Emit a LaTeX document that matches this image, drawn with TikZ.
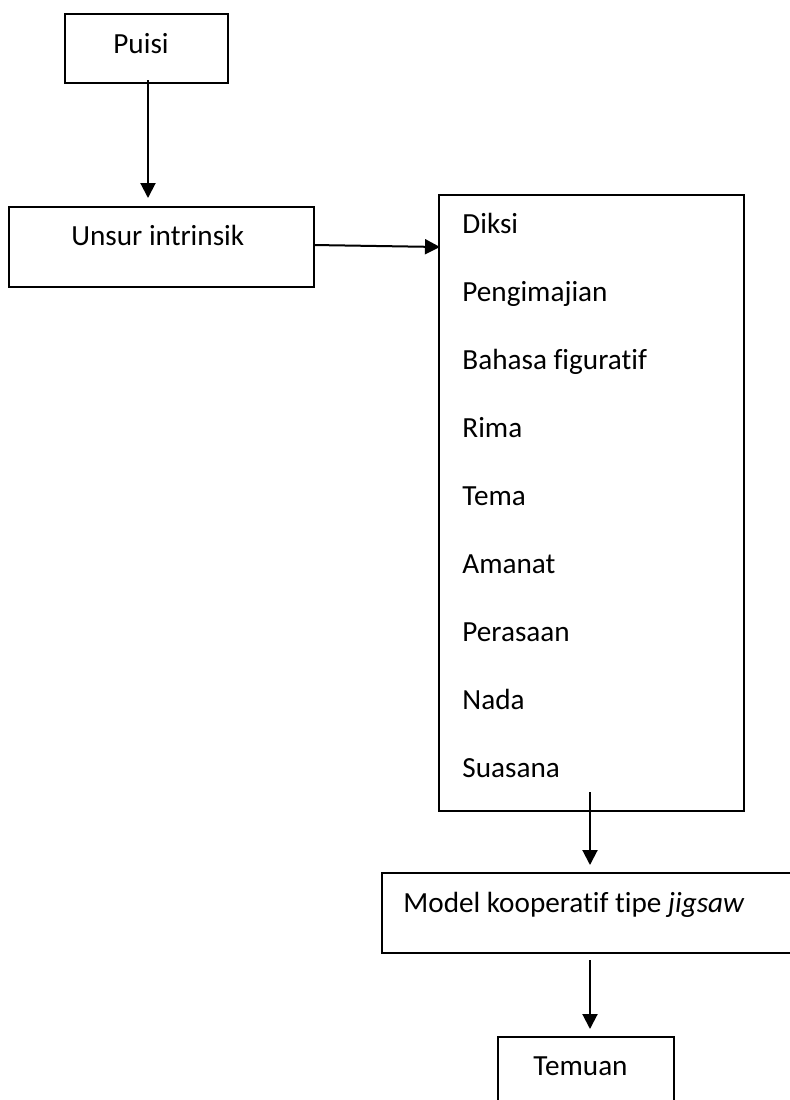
\documentclass[tikz,border=0pt]{standalone}
\usepackage{fontspec}
\setmainfont{Carlito}[Ligatures={NoCommon}]
\usetikzlibrary{arrows.meta}
\begin{document}
\begin{tikzpicture}[x=0.5pt,y=-0.5pt,
  box/.style={draw,line width=1pt},
  lbl/.style={anchor=base west,inner sep=0pt,font=\fontsize{14.6pt}{17pt}\selectfont},
  conn/.style={line width=1pt,-{Triangle[width=7.5pt,length=7.5pt]}}]
\useasboundingbox[fill=white] (0,0) rectangle (790,1100);
% boxes
\draw[box] (65,14) rectangle (228,83);
\draw[box] (9,207) rectangle (314,287);
\draw[box] (439,195) rectangle (744,811);
\draw[box] (800,873) -- (382,873) -- (382,953) -- (800,953);
\draw[box] (498,1110) -- (498,1037) -- (674,1037) -- (674,1110);
% texts
\node[lbl] (puisi) at (113,53) {Puisi};
\node[lbl] (unsur) at (71,245) {Unsur intrinsik};
\node[lbl] (diksi) at (462,233) {Diksi};
\node[lbl] (peng) at (462,301) {Pengimajian};
\node[lbl] (bahasa) at (462,369) {Bahasa figuratif};
\node[lbl] (rima) at (462,437) {Rima};
\node[lbl] (tema) at (462,505) {Tema};
\node[lbl] (amanat) at (462,573) {Amanat};
\node[lbl] (perasaan) at (462,641) {Perasaan};
\node[lbl] (nada) at (462,709) {Nada};
\node[lbl] (suasana) at (462,777) {Suasana};
\node[lbl] (model) at (403,912) {Model kooperatif tipe \textit{jigsaw}};
\node[lbl] (temuan) at (533,1075) {Temuan};
% connector endpoints
\coordinate (a1s) at (148,80);
\coordinate (a1e) at (148,198);
\coordinate (a2s) at (314,245);
\coordinate (a2e) at (440,247);
\coordinate (a3s) at (590,792);
\coordinate (a3e) at (590,865);
\coordinate (a4s) at (590,960);
\coordinate (a4e) at (590,1029);
\draw[conn] (a1s) -- (a1e);
\draw[conn] (a2s) -- (a2e);
\draw[conn] (a3s) -- (a3e);
\draw[conn] (a4s) -- (a4e);
\end{tikzpicture}
\end{document}
